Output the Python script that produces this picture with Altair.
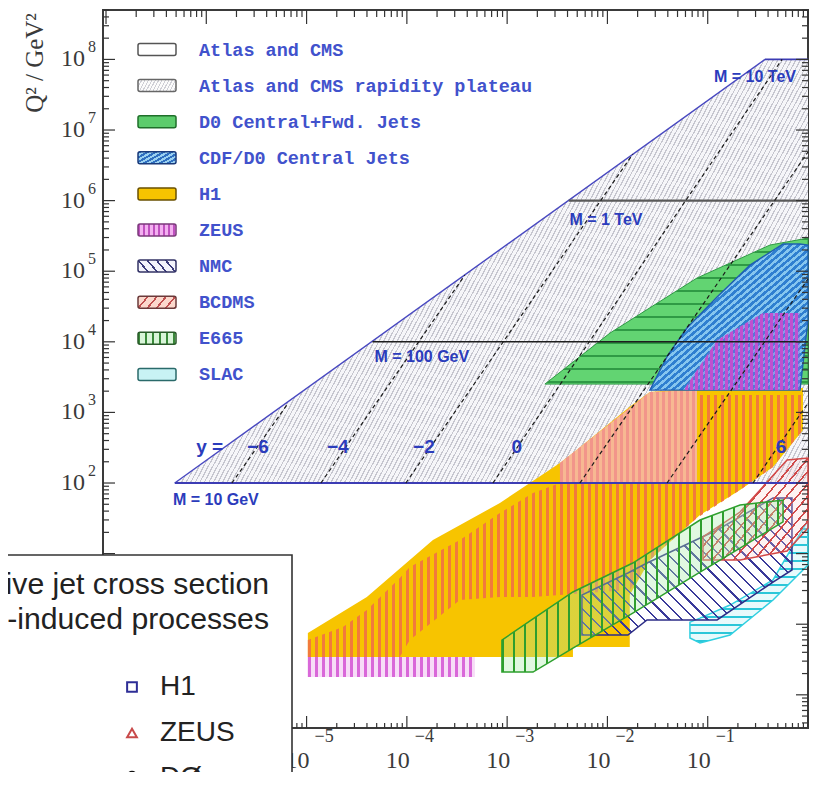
import math
import altair as alt
import pandas as pd

# ===================== values =====================
# frame edges (log10) and tick / label exponents
X_LOG_EDGES = [-7.03, 0.0]
Y_LOG_EDGES = [-1.47, 8.70]
X_MAJOR_EXP = [-7, -6, -5, -4, -3, -2, -1, 0]
Y_MAJOR_EXP = [-1, 0, 1, 2, 3, 4, 5, 6, 7, 8]
MINOR_MULT = [2, 3, 4, 5, 6, 7, 8, 9]
X_LABEL_EXP = [-5, -4, -3, -2, -1]
Y_LABEL_EXP = [2, 3, 4, 5, 6, 7, 8]

# Atlas / CMS kinematic limit (upper-left edge)
LIMIT_X = [4.85e-7, 0.372]
LIMIT_Q2 = [1e2, 1e8]

# Atlas / CMS rapidity plateau region
PLATEAU_X = [4.85e-7, 0.372, 1.0]
PLATEAU_LO = [1e2, 1e2, 1e2]
PLATEAU_HI = [1e2, 1e8, 1e8]

# mass lines (Q2 = M^2)
MASS_LABELS = ["M = 10 GeV", "M = 100 GeV", "M = 1 TeV", "M = 10 TeV"]
MASS_Q2 = [1e2, 1e4, 1e6, 1e8]
MASS_X_FROM = [4.85e-7, 4.54e-5, 4.11e-3, 0.372]
MASS_X_TO = [1.0, 1.0, 1.0, 1.0]
MASS_LABEL_X = [1.245e-6, 1.41e-4, 9.66e-3, 0.296]
MASS_LABEL_Q2 = [57.4, 6.1e3, 5.31e5, 5.64e7]

# lines of constant rapidity y
RAPIDITY = [-6, -4, -2, 0, 2, 4, 6]
RAP_X_FROM = [1.80e-6, 1.39e-5, 9.77e-5, 7.21e-4, 5.32e-3, 0.0393, 0.283]
RAP_Q2_FROM = [100, 100, 100, 100, 100, 100, 100]
RAP_X_TO = [6.35e-6, 3.79e-4, 0.0179, 0.551, 1.0, 1.0, 1.0]
RAP_Q2_TO = [1.27e3, 8.83e4, 4.57e6, 1.0e8, 4.88e6, 7.76e4, 1.36e3]
RAP_LABELS = ["y =", "\u22126", "\u22124", "\u22122", "0", "6"]
RAP_LABEL_X = [1.08e-6, 3.27e-6, 2.05e-5, 1.48e-4, 1.25e-3, 0.538]
RAP_LABEL_Q2 = [324, 324, 324, 324, 324, 324]

# measured regions: x, lower Q2, upper Q2
H1_X = [1.03e-5, 3.99e-5, 1.82e-4, 8.47e-4, 3.36e-3, 4.53e-3, 4.53e-3, 0.0167, 0.0167,
        0.0265, 0.0838, 0.210, 0.448, 0.891]
H1_LO = [0.343, 0.343, 0.343, 0.343, 0.343, 0.343, 0.475, 0.475, 2.59, 8.11, 35.2, 79.6, 169, 564]
H1_HI = [0.750, 2.43, 15.6, 52.1, 192, 266, 266, 1200, 1200, 1950, 2220, 2220, 2220, 2220]

ZEUS_X = [1.03e-5, 2.30e-5, 3.99e-5, 8.51e-5, 1.07e-4, 3.38e-4, 8.47e-4, 1.81e-3, 3.36e-3,
          0.0167, 0.0265, 0.0782, 0.0782, 0.210, 0.448, 0.891]
ZEUS_LO = [0.343, 0.343, 0.343, 0.343, 0.597, 2.20, 2.43, 2.43, 2.59, 3.05, 8.11, 31.9, 31.9,
           79.6, 169, 564]
ZEUS_HI = [0.597, 0.912, 1.59, 4.51, 6.46, 15.6, 37.6, 72.1, 100, 100, 100, 100, 1760, 1760,
           1760, 1760]

ZEUS_MID_X = [3.36e-3, 0.0265, 0.0782]
ZEUS_MID_LO = [100, 100, 100]
ZEUS_MID_HI = [192, 1950, 2070]

ZEUS_LOWQ_X = [1.03e-5, 4.77e-4]
ZEUS_LOWQ_LO = [0.179, 0.179]
ZEUS_LOWQ_HI = [0.343, 0.343]

ZEUS_HIGHQ_X = [0.0593, 0.124, 0.356, 0.832]
ZEUS_HIGHQ_LO = [2070, 2070, 2070, 2070]
ZEUS_HIGHQ_HI = [2220, 1.06e4, 2.56e4, 2.56e4]

D0_X = [2.38e-3, 0.0106, 0.0782, 0.418, 1.0]
D0_LO = [2520, 2520, 2520, 2520, 2520]
D0_HI = [2520, 1.33e4, 8.02e4, 2.35e5, 2.95e5]

CDF_X = [0.0265, 0.0401, 0.0621, 0.124, 0.264, 0.564, 0.832, 1.0]
CDF_LO = [2070, 2070, 2070, 2070, 2070, 2070, 2070, 2.04e4]
CDF_HI = [2070, 6500, 1.57e4, 4.32e4, 1.22e5, 2.43e5, 2.43e5, 2.35e5]

E665_X = [8.87e-4, 1.81e-3, 4.53e-3, 0.0179, 0.0838, 0.210, 0.564]
E665_LO = [0.210, 0.210, 0.460, 1.44, 5.48, 12.0, 28.1]
E665_HI = [0.597, 1.19, 2.86, 7.36, 29.9, 48.8, 57.4]

NMC_X = [5.57e-3, 0.0160, 0.0248, 0.124, 0.448, 0.692]
NMC_LO = [0.703, 0.703, 1.15, 1.15, 3.96, 5.86]
NMC_HI = [2.59, 5.31, 7.36, 21.6, 61.4, 61.4]

BCDMS_X = [0.0897, 0.210, 0.618, 1.0]
BCDMS_LO = [8.11, 8.11, 10.9, 23.1]
BCDMS_HI = [17.2, 38.8, 212, 226]

SLAC_X = [0.0665, 0.0838, 0.167, 0.448, 1.0]
SLAC_LO = [0.638, 0.542, 0.703, 2.20, 6.90]
SLAC_HI = [1.07, 1.22, 1.87, 4.23, 29.9]

LEGEND_NAMES = ["Atlas and CMS", "Atlas and CMS rapidity plateau", "D0 Central+Fwd. Jets",
                "CDF/D0 Central Jets", "H1", "ZEUS", "NMC", "BCDMS", "E665", "SLAC"]
BOX_TITLE = ["Inclusive jet cross section", "in hadron-induced processes"]
BOX_ENTRIES = ["H1", "ZEUS", "D\u00d8"]

# ===================== layout / style =====================
W_PLOT, H_PLOT = 705, 718
XS = alt.Scale(type="log", domain=[10 ** X_LOG_EDGES[0], 10 ** X_LOG_EDGES[1]], nice=False)
YS = alt.Scale(type="log", domain=[10 ** Y_LOG_EDGES[0], 10 ** Y_LOG_EDGES[1]], nice=False)
BLUE_TXT = "#2b3cbc"
AXC = "#333333"
ONE = pd.DataFrame({"k": [0]})


def px(x):
    return (math.log10(x) - X_LOG_EDGES[0]) / (X_LOG_EDGES[1] - X_LOG_EDGES[0]) * W_PLOT


def py(q):
    return (Y_LOG_EDGES[1] - math.log10(q)) / (Y_LOG_EDGES[1] - Y_LOG_EDGES[0]) * H_PLOT


def hatch(W, H, angle, period, lw, c_line, c_bg):
    a = math.radians(angle)
    s, c = math.sin(a), math.cos(a)
    if abs(c) < 1e-9:
        c = 0.0
    if abs(s) < 1e-9:
        s = 0.0
    P = W * s + H * abs(c)
    k = P / (W * W * s * s + H * H * c * c)
    du, dv = k * W * s, k * H * c
    u1, v1 = 0.0, (0.0 if c >= 0 else 1.0)
    stops = []
    n = int(P / period) + 1
    for i in range(n):
        a0 = i * period / P
        if a0 >= 1:
            break
        a1 = min((i * period + lw) / P, 1.0)
        a2 = min((i + 1) * period / P, 1.0)
        for off, col in ((a0, c_line), (a1, c_line), (a1, c_bg), (a2, c_bg)):
            stops.append({"offset": round(off, 5), "color": col})
    return {"gradient": "linear", "x1": u1, "y1": v1, "x2": u1 + du, "y2": v1 + dv,
            "stops": stops}


def X(f):
    return alt.X(f"{f}:Q", scale=XS, axis=None)


def Y(f):
    return alt.Y(f"{f}:Q", scale=YS, axis=None)


def region(xs, lo, hi, fill, stroke=None, sw=1.2, hatch_spec=None):
    if hatch_spec is not None:
        W = max(px(max(xs)) - px(min(xs)), 1.0)
        qs = list(lo) + list(hi)
        H = max(py(min(qs)) - py(max(qs)), 1.0)
        fill = hatch(W, H, *hatch_spec)
    df = pd.DataFrame({"x": xs, "lo": lo, "hi": hi})
    kw = dict(fill=fill, opacity=1)
    if stroke:
        kw.update(stroke=stroke, strokeWidth=sw)
    else:
        kw.update(strokeWidth=0)
    return alt.Chart(df).mark_area(**kw).encode(x=X("x"), y=Y("lo"), y2="hi:Q")


def segments(x0, q0, x1, q1, color, width, dash=None):
    rows = []
    for g, (a, b, c, d) in enumerate(zip(x0, q0, x1, q1)):
        rows.append({"x": a, "q": b, "g": g, "i": 0})
        rows.append({"x": c, "q": d, "g": g, "i": 1})
    kw = dict(color=color, strokeWidth=width, opacity=1)
    if dash:
        kw["strokeDash"] = dash
    return alt.Chart(pd.DataFrame(rows)).mark_line(**kw).encode(
        x=X("x"), y=Y("q"), detail="g:N", order="i:Q")


def labels(xs, qs, texts, size, color=BLUE_TXT, weight="bold"):
    df = pd.DataFrame({"x": xs, "q": qs, "t": texts})
    return alt.Chart(df).mark_text(font="Liberation Sans", fontSize=size, fontWeight=weight,
                                   color=color, align="center", baseline="middle").encode(
        x=X("x"), y=Y("q"), text="t:N")


layers = []

# --- Atlas / CMS plateau (light grey hatch)
layers.append(region(PLATEAU_X, PLATEAU_LO, PLATEAU_HI, None,
                     hatch_spec=(62, 4, 1.2, "#c6c6cf", "#f6f6f9")))
# --- H1 (solid yellow)
layers.append(region(H1_X, H1_LO, H1_HI, "#f7c400"))
# --- ZEUS (vertical stripes)
layers.append(region(ZEUS_LOWQ_X, ZEUS_LOWQ_LO, ZEUS_LOWQ_HI, None,
                     hatch_spec=(90, 7, 3, "#d968d9", "#f7dcf7")))
layers.append(region(ZEUS_X, ZEUS_LO, ZEUS_HI, None,
                     hatch_spec=(90, 7, 3.6, "#f27a3c", "rgba(255,255,255,0)")))
layers.append(region(ZEUS_MID_X, ZEUS_MID_LO, ZEUS_MID_HI, None,
                     hatch_spec=(90, 6, 3, "#f2958a", "#f7b892")))
# --- D0 central + forward (green, horizontal lines)
layers.append(region(D0_X, D0_LO, D0_HI, None, stroke="#2f9a45", sw=1,
                     hatch_spec=(0, 13, 2, "#2f9a45", "#62d472")))
# --- CDF / D0 central (blue)
layers.append(region(CDF_X, CDF_LO, CDF_HI, None, stroke="#1f5fb0", sw=1.4,
                     hatch_spec=(40, 5, 2.6, "#2f7fd0", "#86c6ef")))
layers.append(region(ZEUS_HIGHQ_X, ZEUS_HIGHQ_LO, ZEUS_HIGHQ_HI, None,
                     hatch_spec=(90, 5, 2.6, "#c050d0", "rgba(150,100,225,0.45)")))
# --- fixed target experiments
layers.append(region(SLAC_X, SLAC_LO, SLAC_HI, None, stroke="#30cfe0", sw=1.5,
                     hatch_spec=(0, 8, 1.6, "#2cc6d8", "rgba(190,240,245,0.35)")))
layers.append(region(NMC_X, NMC_LO, NMC_HI, None, stroke="#2c2c86", sw=1.5,
                     hatch_spec=(135, 9, 1.6, "#3a3a9a", "rgba(255,255,255,0)")))
layers.append(region(BCDMS_X, BCDMS_LO, BCDMS_HI, None, stroke="#d24848", sw=1.5,
                     hatch_spec=(50, 8, 1.6, "#d04a4a", "rgba(250,205,205,0.25)")))
layers.append(region(E665_X, E665_LO, E665_HI, None, stroke="#2ea02e", sw=1.5,
                     hatch_spec=(90, 11, 1.6, "#2e9e2e", "rgba(170,235,170,0.35)")))

# --- boundary and mass lines
layers.append(segments(LIMIT_X, LIMIT_Q2, LIMIT_X[1:], LIMIT_Q2[1:], "#4848c0", 1.4))
layers.append(segments([MASS_X_FROM[0], MASS_X_FROM[3]], [MASS_Q2[0], MASS_Q2[3]],
                       [MASS_X_TO[0], MASS_X_TO[3]], [MASS_Q2[0], MASS_Q2[3]], "#3c3cb4", 1.8))
layers.append(segments([MASS_X_FROM[1]], [MASS_Q2[1]], [MASS_X_TO[1]], [MASS_Q2[1]], "#1e1e1e", 1.5))
layers.append(segments([MASS_X_FROM[2]], [MASS_Q2[2]], [MASS_X_TO[2]], [MASS_Q2[2]], "#5a5a5a", 2.2))
# --- rapidity lines
layers.append(segments(RAP_X_FROM, RAP_Q2_FROM, RAP_X_TO, RAP_Q2_TO, "#1a1a1a", 1.2, dash=[4, 3]))

# --- line labels
layers.append(labels(MASS_LABEL_X, MASS_LABEL_Q2, MASS_LABELS, 16))
layers.append(labels(RAP_LABEL_X, RAP_LABEL_Q2, RAP_LABELS, 19))

# --- ticks (inward) on all four sides
x_major = [10.0 ** e for e in X_MAJOR_EXP]
y_major = [10.0 ** e for e in Y_MAJOR_EXP]
x_minor = [m * 10.0 ** e for e in X_MAJOR_EXP + [-8] for m in MINOR_MULT
           if X_LOG_EDGES[0] < math.log10(m * 10.0 ** e) < X_LOG_EDGES[1]]
y_minor = [m * 10.0 ** e for e in Y_MAJOR_EXP + [-2] for m in MINOR_MULT
           if Y_LOG_EDGES[0] < math.log10(m * 10.0 ** e) < Y_LOG_EDGES[1]]
for vals, ln in ((x_major, 14), (x_minor, 7)):
    d = pd.DataFrame({"v": vals})
    layers.append(alt.Chart(d).mark_rule(color=AXC, strokeWidth=1.2).encode(
        x=X("v"), y=alt.value(0), y2=alt.value(ln)))
    layers.append(alt.Chart(d).mark_rule(color=AXC, strokeWidth=1.2).encode(
        x=X("v"), y=alt.value(H_PLOT), y2=alt.value(H_PLOT - ln + 2)))
for vals, ln in ((y_major, 12), (y_minor, 6)):
    d = pd.DataFrame({"v": vals})
    layers.append(alt.Chart(d).mark_rule(color=AXC, strokeWidth=1.2).encode(
        y=Y("v"), x=alt.value(0), x2=alt.value(ln)))
    layers.append(alt.Chart(d).mark_rule(color=AXC, strokeWidth=1.2).encode(
        y=Y("v"), x=alt.value(W_PLOT), x2=alt.value(W_PLOT - ln)))


def exp_text(e):
    return ("\u2212" + str(-e)) if e < 0 else str(e)


# --- tick labels as 10 with a raised exponent
yl = pd.DataFrame({"v": [10.0 ** e for e in Y_LABEL_EXP], "e": [exp_text(e) for e in Y_LABEL_EXP]})
layers.append(alt.Chart(yl).mark_text(text="10", font="Liberation Serif", fontSize=24, color="#3a3a3a",
                                      align="right", baseline="middle").encode(
    x=alt.value(-18), y=Y("v")))
layers.append(alt.Chart(yl).mark_text(font="Liberation Serif", fontSize=16, color="#3a3a3a",
                                      align="left", baseline="middle", dy=-12).encode(
    x=alt.value(-15), y=Y("v"), text="e:N"))
xl = pd.DataFrame({"v": [10.0 ** e for e in X_LABEL_EXP], "e": [exp_text(e) for e in X_LABEL_EXP]})
layers.append(alt.Chart(xl).mark_text(text="10", font="Liberation Serif", fontSize=24, color="#3a3a3a",
                                      align="center", baseline="middle", dx=-9).encode(
    x=X("v"), y=alt.value(751)))
layers.append(alt.Chart(xl).mark_text(font="Liberation Serif", fontSize=18, color="#3a3a3a",
                                      align="left", baseline="middle", dx=8).encode(
    x=X("v"), y=alt.value(727), text="e:N"))
# axis titles
layers.append(alt.Chart(ONE).mark_text(text="Q\u00b2 / GeV\u00b2", font="Liberation Serif", fontSize=25,
                                       color="#3a3a3a", angle=270, align="center",
                                       baseline="middle").encode(x=alt.value(-68), y=alt.value(53)))
layers.append(alt.Chart(ONE).mark_text(text="x", font="Liberation Serif", fontSize=24, color="#3a3a3a",
                                       align="center", baseline="top").encode(
    x=alt.value(693), y=alt.value(756)))

# --- legend inside the plot
LEG_X0, LEG_X1, LEG_TX = 35, 73, 96
LEG_Y0, LEG_DY = 39.5, 36.1
sw_styles = [
    ("white", "#555555"),
    (hatch(38, 12, 62, 3, 1, "#cfcfd6", "#fbfbfb"), "#666666"),
    ("#5ccc6c", "#1f6f2a"),
    (hatch(38, 12, 30, 4, 2, "#2f6fc0", "#9ad0f0"), "#1a3a7a"),
    ("#f7c400", "#6a5000"),
    (hatch(38, 12, 90, 5, 2, "#c050c0", "#f3b0f0"), "#7a3a7a"),
    (hatch(38, 12, 130, 7, 1.6, "#3a3a7a", "#f2f2fa"), "#333366"),
    (hatch(38, 12, 50, 7, 1.6, "#c05050", "#fbd8cc"), "#6a3a3a"),
    (hatch(38, 12, 90, 7, 1.6, "#3a8a3a", "#d9f5d9"), "#2a5a2a"),
    ("#c8f2f4", "#2a6a6a"),
]
for i, name in enumerate(LEGEND_NAMES):
    yc = LEG_Y0 + LEG_DY * i
    fill, stroke = sw_styles[i]
    layers.append(alt.Chart(ONE).mark_rect(fill=fill, stroke=stroke, strokeWidth=1.5,
                                           cornerRadius=2, opacity=1).encode(
        x=alt.value(LEG_X0), x2=alt.value(LEG_X1), y=alt.value(yc - 6), y2=alt.value(yc + 6)))
    layers.append(alt.Chart(ONE).mark_text(text=name, font="Liberation Mono", fontSize=18.5,
                                           fontWeight="bold", color="#4152cc", align="left",
                                           baseline="middle").encode(
        x=alt.value(LEG_TX), y=alt.value(yc)))

# --- overlaid white legend box (bottom left)
layers.append(alt.Chart(ONE).mark_rect(fill="white", stroke="#333333", strokeWidth=1.6,
                                       opacity=1).encode(
    x=alt.value(-130), x2=alt.value(189), y=alt.value(545), y2=alt.value(840)))
for j, (t, yb) in enumerate(zip(BOX_TITLE, [584, 619])):
    layers.append(alt.Chart(ONE).mark_text(text=t, font="Liberation Sans", fontSize=30.2,
                                           color="#222222", align="right",
                                           baseline="alphabetic").encode(
        x=alt.value(166), y=alt.value(yb)))
box_marks = [("square", "#2e2e96", 677), ("triangle-up", "#c84a4a", 723)]
for shape, col, yc in box_marks:
    layers.append(alt.Chart(ONE).mark_point(shape=shape, filled=False, size=95, strokeWidth=2,
                                            color=col, opacity=1).encode(
        x=alt.value(29), y=alt.value(yc)))
layers.append(alt.Chart(ONE).mark_circle(size=110, color="#111111", opacity=1).encode(
    x=alt.value(29), y=alt.value(766)))
for t, yc in zip(BOX_ENTRIES, [677, 723, 768]):
    layers.append(alt.Chart(ONE).mark_text(text=t, font="Liberation Sans", fontSize=28,
                                           color="#222222", align="left",
                                           baseline="middle").encode(
        x=alt.value(57), y=alt.value(yc)))

chart = alt.layer(*layers).properties(
    width=W_PLOT, height=H_PLOT,
    padding={"left": 95, "top": 2, "right": 4, "bottom": 44},
    autosize=alt.AutoSizeParams(type="none"),
).configure_view(stroke="#3a3a3a", strokeWidth=2)

chart.save("out.html", embed_options={"renderer": "svg", "actions": False})
